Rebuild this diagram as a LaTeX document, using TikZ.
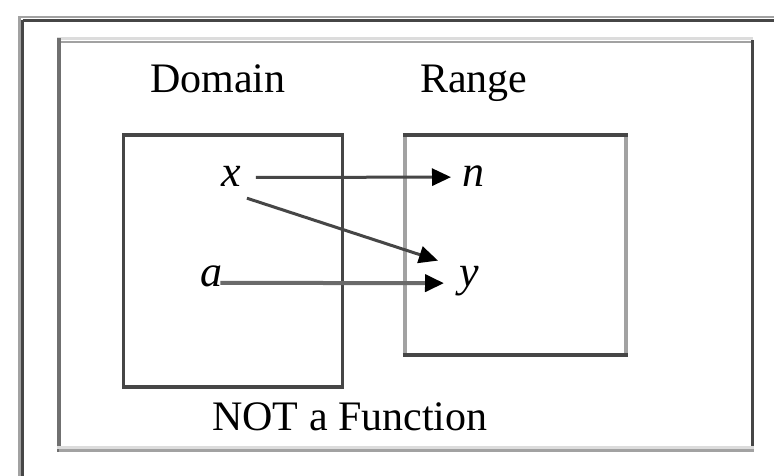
\documentclass[tikz,border=0pt]{standalone}
\usepackage{fontspec}
\setmainfont{Liberation Serif}
\usetikzlibrary{arrows.meta,calc}

\definecolor{edgedark}{HTML}{464646}
\definecolor{edgemid}{HTML}{707070}
\definecolor{edgegray}{HTML}{A2A2A2}
\definecolor{edgelight}{HTML}{DCDCDC}
\definecolor{arrowgray}{HTML}{6A6A6A}

\begin{document}
\begin{tikzpicture}[x=1pt,y=-1pt,
  label/.style={inner sep=0pt, anchor=base west, font=\fontsize{42}{50}\selectfont},
  element/.style={inner sep=0pt, anchor=base west, font=\fontsize{44}{52}\selectfont\itshape},
  setbox/.style={inner sep=0pt, minimum width=#1},
  mapsto/.style={-{Triangle[length=19pt,width=17pt,color=black]}, line width=3pt}
]
\useasboundingbox (0,0) rectangle (774,476);
\fill[white] (0,0) rectangle (774,476);

% outer frame, open to the right and bottom
\draw[edgegray, line width=2.5pt] (18,17) -- (774,17);
\draw[edgedark, line width=3.5pt] (22.5,20.5) -- (774,20.5);
\draw[edgegray, line width=3pt] (19,17) -- (19,476);
\draw[edgedark, line width=3.5pt] (22.5,20.5) -- (22.5,476);

% inner frame with bevelled edges
\draw[edgelight, line width=3pt] (57,39) -- (753,39);
\draw[edgegray, line width=2.5pt] (59,42) -- (752,42);
\draw[edgemid, line width=3.5pt] (59,38) -- (59,452);
\draw[edgedark, line width=3.5pt] (752.5,40) -- (752.5,452);
\draw[edgelight, line width=3pt] (57,447.5) -- (754,447.5);
\draw[edgegray, line width=2.5pt] (59,450.5) -- (754,450.5);

% domain and range boxes
\node[setbox=219pt, minimum height=252pt, draw=edgedark, line width=3.5pt] (dombox) at (233,261) {};
\node[setbox=221pt, minimum height=220pt] (rngbox) at (515.5,245) {};
\draw[edgegray, line width=4pt] (rngbox.north west) -- (rngbox.south west);
\draw[edgegray, line width=4pt] (rngbox.north east) -- (rngbox.south east);
\draw[edgedark, line width=3.5pt] ([xshift=-2pt]rngbox.north west) -- ([xshift=2pt]rngbox.north east);
\draw[edgedark, line width=3.5pt] ([xshift=-2pt]rngbox.south west) -- ([xshift=2pt]rngbox.south east);

% captions
\node[label] (domlabel) at (150,93) {Domain};
\node[label] (rnglabel) at (420,93) {Range};
\node[label] (caption) at (212,430) {NOT a Function};

% elements
\node[element] (x) at (221,186) {x};
\node[element] (n) at (462,186) {n};
\node[element] (a) at (200,286) {a};
\node[element] (y) at (459,286) {y};

% mappings
\draw[mapsto, edgedark] ($(x.east)+(15,1.5)$) -- ($(n.west)+(-11,1.5)$);
\draw[mapsto, edgedark] ($(x.south east)+(6,12)$) -- ($(y.north west)+(-21,-5)$);
\draw[mapsto, arrowgray, line width=4pt] ($(a.east)+(-2,7)$) -- ($(y.west)+(-15,2.5)$);
\end{tikzpicture}
\end{document}
